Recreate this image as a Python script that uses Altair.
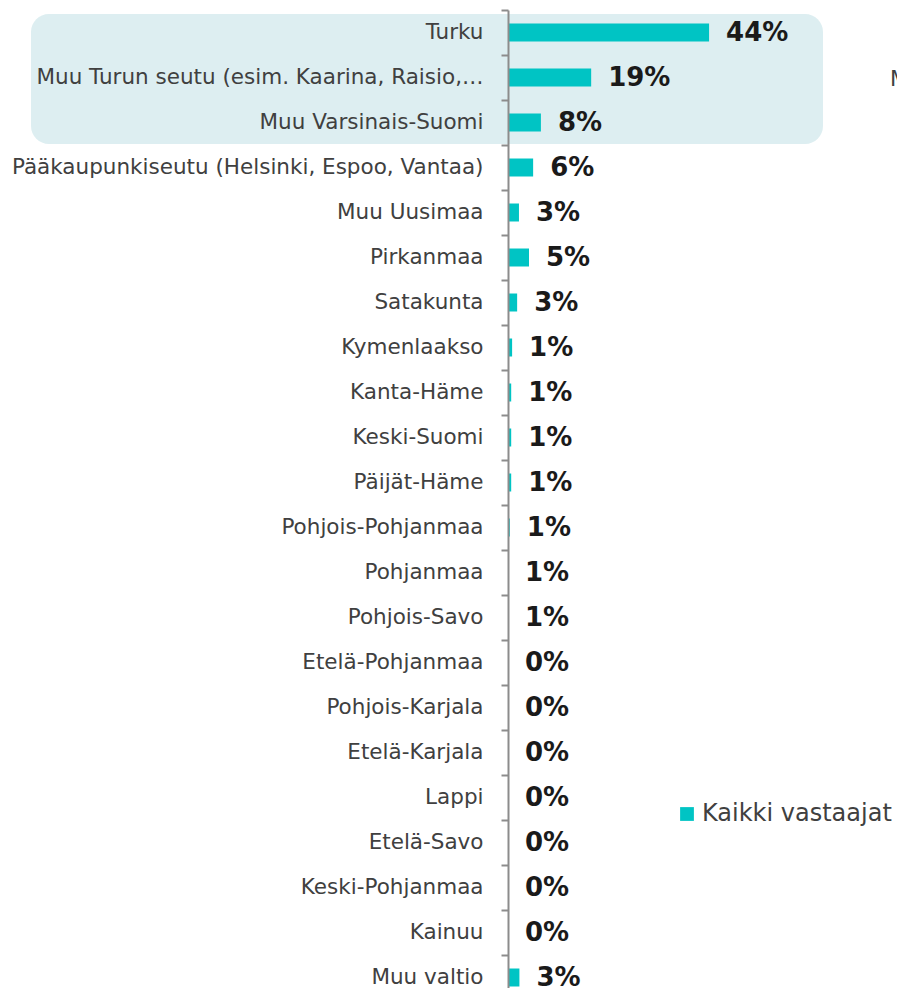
import altair as alt
import pandas as pd

categories = [
    "Turku",
    "Muu Turun seutu (esim. Kaarina, Raisio,…",
    "Muu Varsinais-Suomi",
    "Pääkaupunkiseutu (Helsinki, Espoo, Vantaa)",
    "Muu Uusimaa",
    "Pirkanmaa",
    "Satakunta",
    "Kymenlaakso",
    "Kanta-Häme",
    "Keski-Suomi",
    "Päijät-Häme",
    "Pohjois-Pohjanmaa",
    "Pohjanmaa",
    "Pohjois-Savo",
    "Etelä-Pohjanmaa",
    "Pohjois-Karjala",
    "Etelä-Karjala",
    "Lappi",
    "Etelä-Savo",
    "Keski-Pohjanmaa",
    "Kainuu",
    "Muu valtio",
]
bar_values = [44.0, 18.2, 7.2, 5.5, 2.4, 4.6, 2.0, 0.9, 0.7, 0.7, 0.7, 0.4,
              0.0, 0.0, 0.0, 0.0, 0.0, 0.0, 0.0, 0.0, 0.0, 2.5]
pct_labels = ["44%", "19%", "8%", "6%", "3%", "5%", "3%", "1%", "1%", "1%",
              "1%", "1%", "1%", "1%", "0%", "0%", "0%", "0%", "0%", "0%",
              "0%", "3%"]
series_name = "Kaikki vastaajat"

df = pd.DataFrame({
    "cat": categories,
    "value": bar_values,
    "label": pct_labels,
    "series": [series_name] * len(categories),
})

STEP = 45.0
N = len(categories)
PLOT_W = 389
PLOT_H = 978
K = 4.57  # px per percent
TEAL = "#00C4C4"
GREY = "#404040"
AXIS_GREY = "#8c8c8c"

x_scale = alt.Scale(domain=[0, PLOT_W / K], nice=False, zero=True)
y_scale = alt.Scale(domain=categories, paddingInner=0, paddingOuter=0, range=[0, STEP * N])

base = alt.Chart(df)

highlight_rect = alt.Chart(pd.DataFrame({"h": [1]})).mark_rect(
    color="#DDEEF1", cornerRadius=18
).encode(
    x=alt.value(-477), x2=alt.value(315), y=alt.value(4), y2=alt.value(134)
)

bars = base.mark_bar().encode(
    x=alt.X("value:Q", scale=x_scale, axis=None),
    y=alt.Y(
        "cat:N",
        sort=categories,
        scale=y_scale,
        axis=alt.Axis(
            title=None,
            bandPosition=0,
            tickSize=7,
            tickWidth=2,
            tickColor=AXIS_GREY,
            domainColor=AXIS_GREY,
            domainWidth=2,
            labelFont="DejaVu Sans",
            labelFontSize=21.5,
            labelColor=GREY,
            labelPadding=18,
            labelLimit=600,
            zindex=1,
        ),
    ),
    size=alt.value(18),
    color=alt.Color(
        "series:N",
        scale=alt.Scale(range=[TEAL]),
        legend=alt.Legend(
            title=None,
            orient="none",
            legendX=167,
            legendY=792,
            symbolType="square",
            symbolSize=190,
            symbolStrokeWidth=0,
            labelFont="DejaVu Sans",
            labelFontSize=24,
            labelColor=GREY,
            labelOffset=3,
            labelLimit=600,
            padding=0,
        ),
    ),
)

labels = base.mark_text(
    align="left", baseline="middle", dx=17, font="DejaVu Sans",
    fontWeight="bold", fontSize=26, color="#1a1a1a"
).encode(
    x=alt.X("value:Q", scale=x_scale),
    y=alt.Y("cat:N", sort=categories, scale=y_scale),
    text="label:N",
)

cut_text = alt.Chart(pd.DataFrame({"t": ["M"]})).mark_text(
    align="left", baseline="middle", font="DejaVu Sans", fontSize=21.5, color=GREY
).encode(x=alt.value(382), y=alt.value(70), text="t:N")

chart = alt.layer(highlight_rect, bars, labels, cut_text).properties(
    width=PLOT_W,
    height=PLOT_H,
    autosize="none",
    padding={"left": 500, "top": 2, "right": 0, "bottom": 0},
).configure_view(stroke=None)

chart.save("out.html", embed_options={"renderer": "svg", "actions": False})
